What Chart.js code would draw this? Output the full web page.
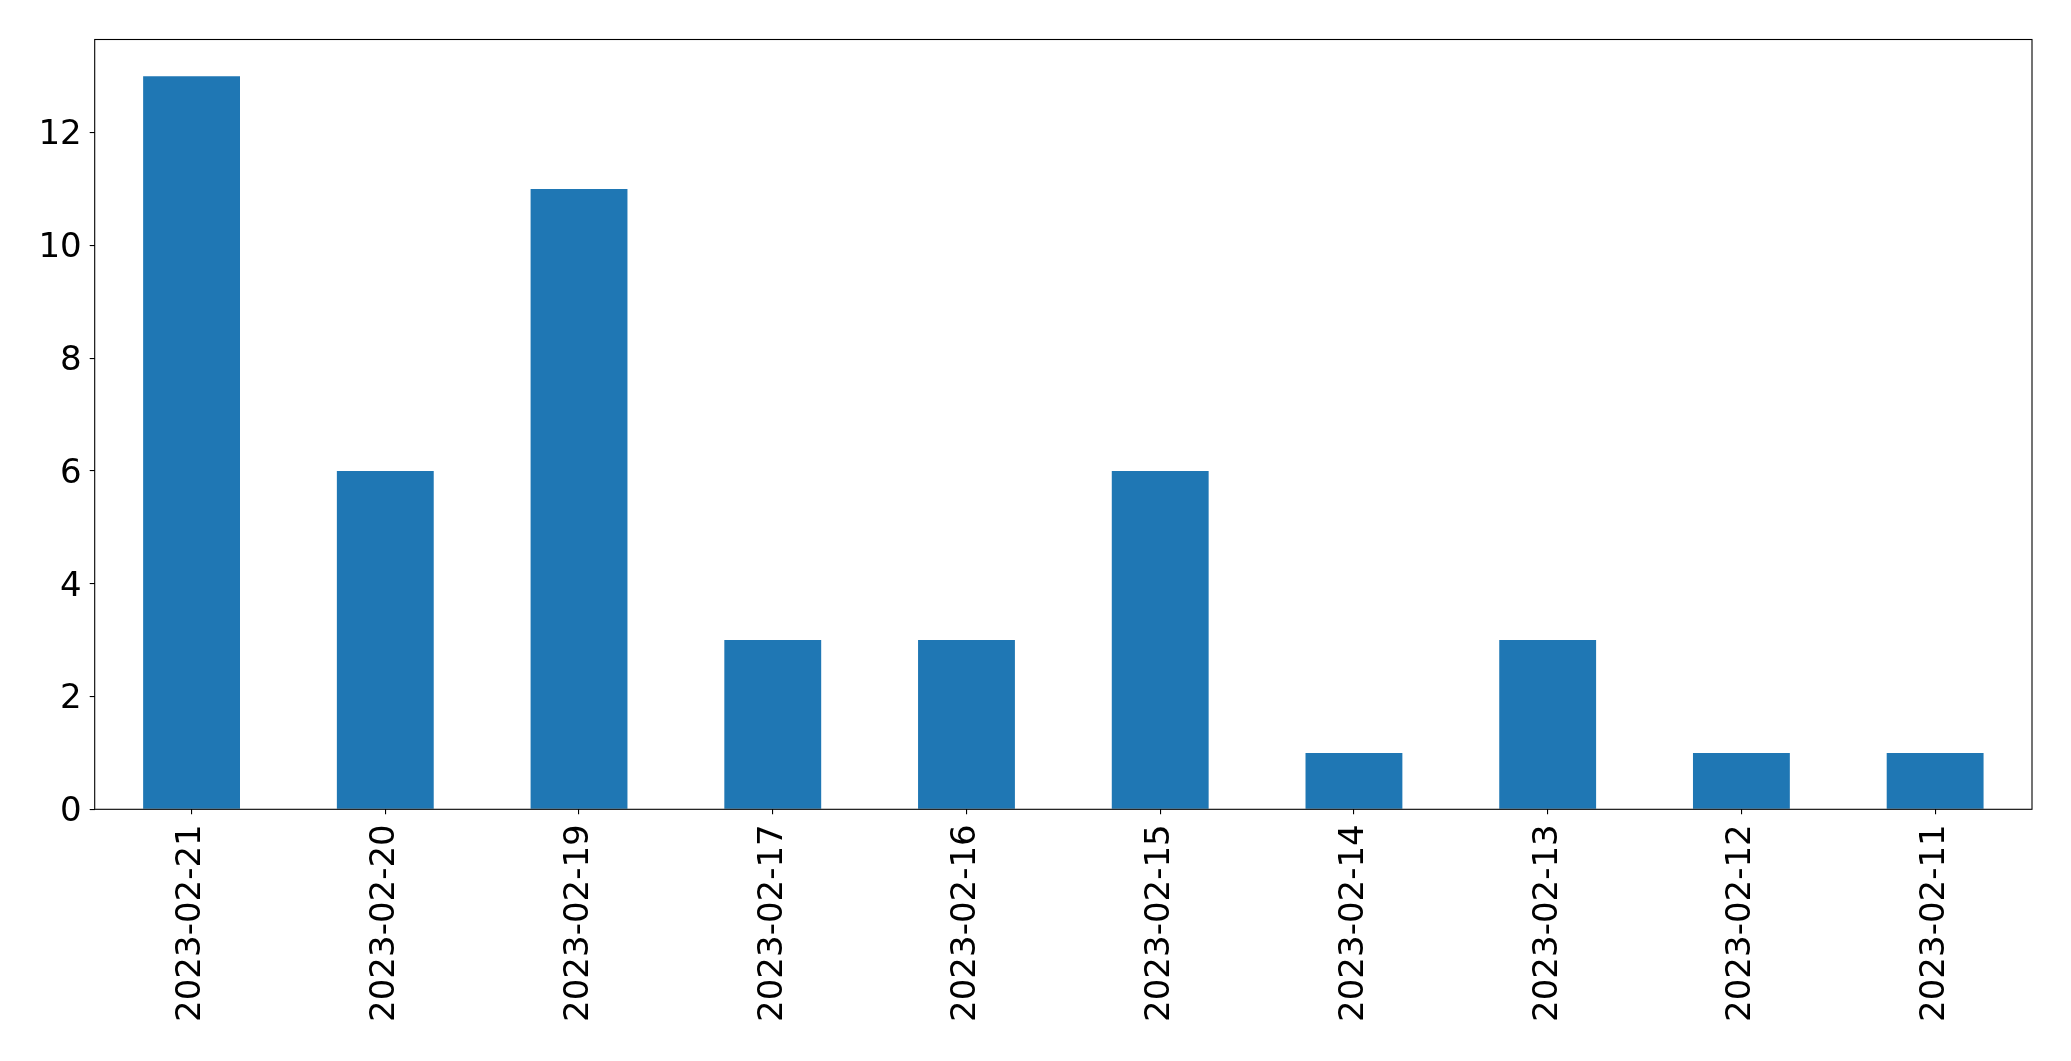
<!DOCTYPE html>
<html>
<head>
<meta charset="utf-8">
<script src="https://cdn.jsdelivr.net/npm/chart.js@4.4.0/dist/chart.umd.min.js"></script>
<style>
  html, body { margin: 0; padding: 0; background: #fff; }
  #wrap { width: 2071px; height: 1061px; }
</style>
</head>
<body>
<div id="wrap"><canvas id="barChart" width="2071" height="1061"></canvas></div>
<script>
// dates, newest first as in the picture
const dates = ['2023-02-21', '2023-02-20', '2023-02-19', '2023-02-17', '2023-02-16',
               '2023-02-15', '2023-02-14', '2023-02-13', '2023-02-12', '2023-02-11'];
const counts = [13, 6, 11, 3, 3, 6, 1, 3, 1, 1];
const yTicks = [0, 2, 4, 6, 8, 10, 12];
const yMax = 13.65;

// frame round the plot area (matplotlib spines)
const framePlugin = {
    id: 'frame',
    afterDraw(chart) {
        const a = chart.chartArea;
        const c = chart.ctx;
        c.save();
        c.strokeStyle = '#000';
        c.lineWidth = 1.1;
        c.strokeRect(a.left, a.top, a.right - a.left, a.bottom - a.top);
        c.restore();
    }
};

const ctx = document.getElementById('barChart').getContext('2d');
new Chart(ctx, {
    type: 'bar',
    data: {
        labels: dates,
        datasets: [{
            data: counts,
            backgroundColor: '#1f77b4',
            borderWidth: 0,
            barPercentage: 0.5,
            categoryPercentage: 1.0
        }]
    },
    options: {
        responsive: false,
        animation: false,
        devicePixelRatio: 1,
        layout: { padding: { top: 39.5, right: 39, left: 0, bottom: 0 } },
        plugins: { legend: { display: false }, tooltip: { enabled: false } },
        scales: {
            x: {
                offset: true,
                grid: { offset: false, drawOnChartArea: false, drawTicks: true, tickLength: 5, color: '#000', lineWidth: 1.1 },
                border: { display: false },
                ticks: {
                    color: '#000',
                    font: { family: 'DejaVu Sans', size: 34 },
                    minRotation: 90,
                    maxRotation: 90,
                    autoSkip: false,
                    padding: 10
                },
                afterFit(scale) { scale.height = 1061 - 809.3; }
            },
            y: {
                min: 0,
                max: yMax,
                grid: { drawOnChartArea: false, drawTicks: true, tickLength: 5, color: '#000', lineWidth: 1.1 },
                border: { display: false },
                afterBuildTicks(scale) { scale.ticks = yTicks.map(v => ({ value: v })); },
                ticks: {
                    color: '#000',
                    font: { family: 'DejaVu Sans', size: 34 },
                    padding: 8,
                    labelOffset: 3
                },
                afterFit(scale) { scale.width = 94.7; }
            }
        }
    },
    plugins: [framePlugin]
});
</script>
</body>
</html>
